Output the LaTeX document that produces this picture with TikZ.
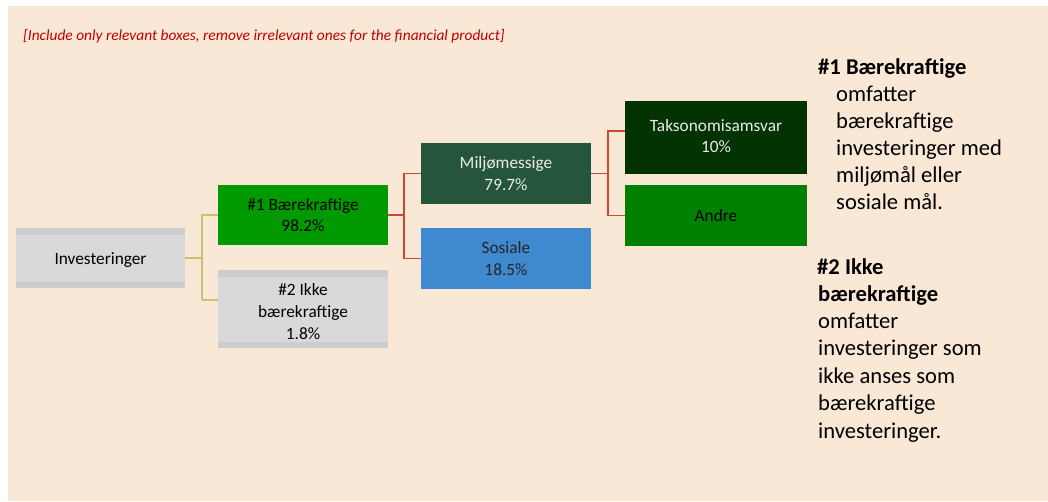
\documentclass[tikz,border=0pt]{standalone}
\usepackage{fontspec}
\setmainfont{Carlito}
\usetikzlibrary{calc}
\begin{document}
\begin{tikzpicture}[x=1pt,y=-1pt,
  boxnode/.style={rectangle,inner sep=0pt,align=center,font=\fontsize{17.3}{21.7}\selectfont},
  graybox/.style={boxnode,fill=boxgray,text=black},
  band/.style={fill=bandgray},
  khaki/.style={draw=khakiline,line width=1.6pt},
  redline/.style={draw=redl,line width=1.6pt},
  rtext/.style={anchor=base west,inner sep=0pt,font=\fontsize{22.6}{27}\selectfont},
  rbold/.style={rtext,font=\fontsize{22.6}{27}\selectfont\bfseries}
]
\definecolor{bg}{HTML}{FAE8D7}
\definecolor{boxgray}{HTML}{D9D9D9}
\definecolor{bandgray}{HTML}{CDCDCD}
\definecolor{khakiline}{HTML}{CDBF72}
\definecolor{redl}{HTML}{C84B2C}
\definecolor{g1}{HTML}{009900}
\definecolor{mil}{HTML}{25553A}
\definecolor{sos}{HTML}{3E89CF}
\definecolor{tak}{HTML}{033303}
\definecolor{andre}{HTML}{008000}
\definecolor{warn}{HTML}{C00000}
\useasboundingbox (0,0) rectangle (1048,501);
\fill[bg] (8,6) rectangle (1048,501);

\node[anchor=base west,inner sep=0pt,text=warn,font=\fontsize{15.4}{18}\selectfont\itshape] (head) at (23,40.5)
  {[Include only relevant boxes, remove irrelevant ones for the financial product]};

% boxes
\node[graybox,minimum width=169pt,minimum height=60pt] (inv) at (100.5,258) {};
\fill[band] (inv.north west) rectangle ($(inv.north east)+(0,7)$);
\fill[band] (inv.south west) rectangle ($(inv.south east)+(0,-6)$);
\node[boxnode] (invt) at (100.5,260) {Investeringer};

\node[boxnode,fill=g1,text=black,minimum width=170pt,minimum height=60pt] (b1) at (303,215) {\#1 Bærekraftige\\98.2\%};

\node[graybox,minimum width=170pt,minimum height=78pt] (b2) at (303,309) {};
\fill[band] (b2.north west) rectangle ($(b2.north east)+(0,7)$);
\fill[band] (b2.south west) rectangle ($(b2.south east)+(0,-6)$);
\node[boxnode] (b2t) at (303,311.5) {\#2 Ikke\\bærekraftige\\1.8\%};

\node[boxnode,fill=mil,text=white!92!black,minimum width=170pt,minimum height=61pt] (mil) at (506,173.5) {Miljømessige\\79.7\%};
\node[boxnode,fill=sos,text=black!85,minimum width=170pt,minimum height=61pt] (sos) at (506,258.5) {Sosiale\\18.5\%};
\node[boxnode,fill=tak,text=white!92!black,minimum width=182pt,minimum height=73pt] (tak) at (716,137.5) {\raisebox{3pt}{Taksonomisamsvar}\\\raisebox{3pt}{10\%}};
\node[boxnode,fill=andre,text=black,minimum width=182pt,minimum height=61pt] (and) at (716,215.5) {Andre};

% connectors
\coordinate (j1) at (202,258);
\coordinate (j1a) at (202,215);
\coordinate (j1b) at (202,300);
\draw[khaki] (inv.east) -- (j1);
\draw[khaki] (j1b) -- (j1a) -- (b1.west);
\draw[khaki] (j1b) -- (b2.west |- j1b);

\coordinate (j2) at (404,215);
\coordinate (j2a) at (404,173.5);
\coordinate (j2b) at (404,258.5);
\draw[redline] (b1.east) -- (j2);
\draw[redline] (j2b) -- (j2a) -- (mil.west);
\draw[redline] (j2b) -- (sos.west);

\coordinate (j3) at (608,173.5);
\coordinate (j3a) at (608,131);
\coordinate (j3b) at (608,215.5);
\draw[redline] (mil.east) -- (j3);
\draw[redline] (j3b) -- (j3a) -- (tak.west |- j3a);
\draw[redline] (j3b) -- (and.west);

% right text
\node[rbold] (t1) at (818,74) {\#1 Bærekraftige};
\node[rtext] (t2) at (836,101) {omfatter};
\node[rtext] (t3) at (836,128) {bærekraftige};
\node[rtext] (t4) at (836,155) {investeringer med};
\node[rtext] (t5) at (836,182) {miljømål eller};
\node[rtext] (t6) at (836,209) {sosiale mål.};

\node[rbold] (u1) at (817,274) {\#2 Ikke};
\node[rbold] (u2) at (818,301) {bærekraftige};
\node[rtext] (u3) at (818,328) {omfatter};
\node[rtext] (u4) at (818,355) {investeringer som};
\node[rtext] (u5) at (818,383) {ikke anses som};
\node[rtext] (u6) at (818,410) {bærekraftige};
\node[rtext] (u7) at (818,438) {investeringer.};
\end{tikzpicture}
\end{document}
